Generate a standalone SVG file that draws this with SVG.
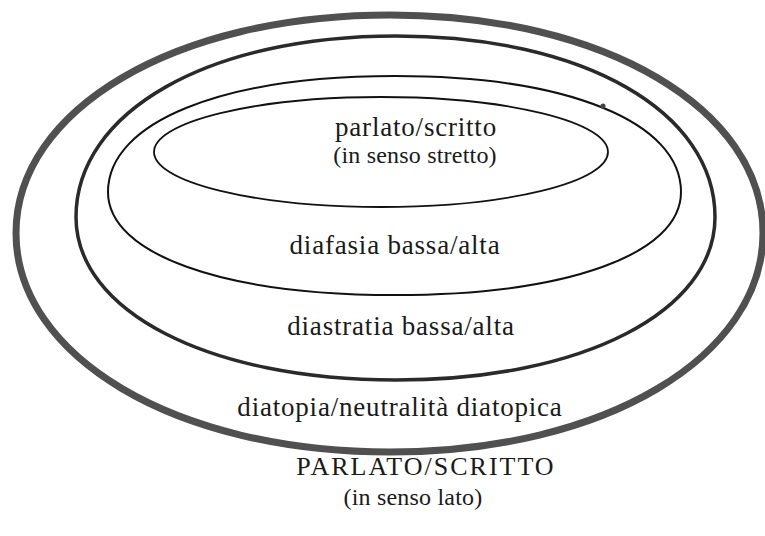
<svg xmlns="http://www.w3.org/2000/svg" width="765" height="536" viewBox="0 0 765 536">
<style>
.e{fill:none}
.t{font-family:"Liberation Serif","Times New Roman",serif;font-size:27px;letter-spacing:0.8px;fill:#1a1a1a;text-anchor:middle}
.s{font-size:24px;letter-spacing:0.2px}
.c{font-size:26px;letter-spacing:2px}
</style>
<rect width="765" height="536" fill="#fff"/>
<g id="outer"><path class="e" d="M16 233 C16 110 174 15 390 15 C606 15 763 110 763 233 C763 356 606 452 390 452 C174 452 16 356 16 233 Z" stroke="#505050" stroke-width="7"/></g>
<g id="diastratia"><path class="e" d="M76 217 C76 112 208 36 396 36 C584 36 715 112 715 217 C715 311 584 380 396 380 C208 380 76 311 76 217 Z" stroke="#2a2a2a" stroke-width="3.5"/></g>
<g id="diafasia"><path class="e" d="M108 192 C108 122 222 76 395 76 C568 76 681 122 681 192 C681 254 568 295 395 295 C222 295 108 254 108 192 Z" stroke="#111" stroke-width="2"/></g>
<g id="inner"><ellipse class="e" cx="381" cy="152" rx="227" ry="55" stroke="#111" stroke-width="1.8"/></g>
<circle cx="603" cy="106" r="2.6" fill="#444"/>
<g id="labels">
<text class="t" x="416" y="136">parlato/scritto</text>
<text class="t s" x="415" y="163">(in senso stretto)</text>
<text class="t" x="395" y="254">diafasia bassa/alta</text>
<text class="t" x="401" y="335">diastratia bassa/alta</text>
<text class="t" x="400" y="416">diatopia/neutralità diatopica</text>
<text class="t c" x="426" y="475">PARLATO/SCRITTO</text>
<text class="t s" x="413" y="505">(in senso lato)</text>
</g>
</svg>
